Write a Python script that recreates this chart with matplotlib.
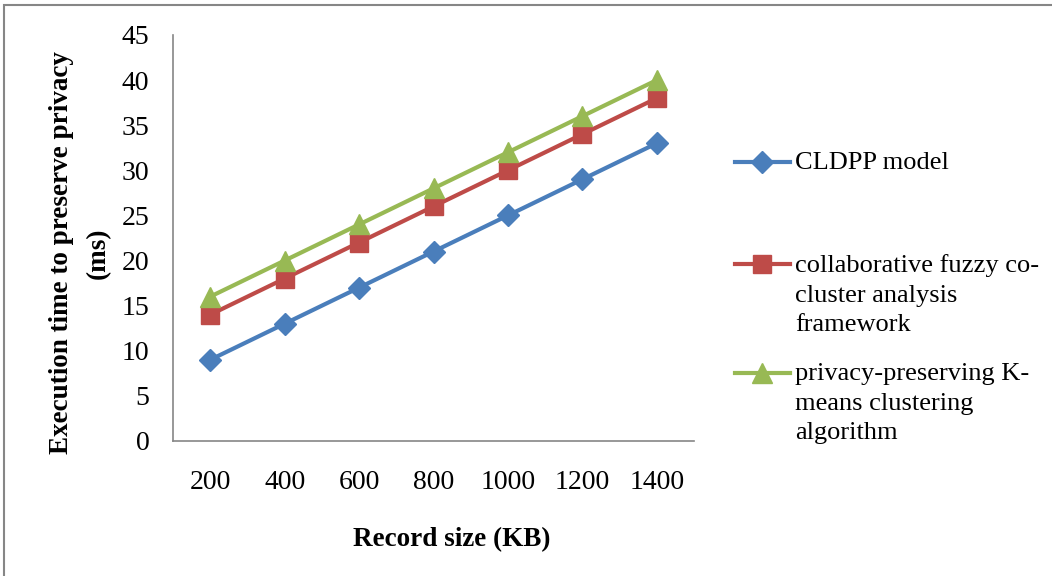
import matplotlib.pyplot as plt
from matplotlib.lines import Line2D
from matplotlib.patches import Rectangle

# dados
record_sizes = ["200", "400", "600", "800", "1000", "1200", "1400"]
cldpp = [9, 13, 17, 21, 25, 29, 33]
fuzzy = [14, 18, 22, 26, 30, 34, 38]
kmeans = [16, 20, 24, 28, 32, 36, 40]

labels = [
    "CLDPP model",
    "collaborative fuzzy co-\ncluster analysis\nframework",
    "privacy-preserving K-\nmeans clustering\nalgorithm",
]
colors = ["#4A7EBB", "#BE4B48", "#98B954"]
markers = ["D", "s", "^"]
msizes = [11, 13, 14]

plt.rcParams["font.family"] = ["Liberation Serif", "DejaVu Serif"]

fig = plt.figure(figsize=(10.52, 5.76), dpi=100)
W, H = 1052, 576
ax = fig.add_axes([173 / W, 1 - 441 / H, (694 - 173) / W, (441 - 35) / H])

x = range(len(record_sizes))
for vals, c, m, ms in zip([cldpp, fuzzy, kmeans], colors, markers, msizes):
    ax.plot(x, vals, color=c, lw=3, marker=m, ms=ms, mec=c, mfc=c, zorder=3)

ax.set_xlim(-0.5, len(record_sizes) - 0.5)
ax.set_ylim(0, 45)
ax.set_yticks(range(0, 46, 5))
ax.set_xticks(list(x))
ax.set_xticklabels(record_sizes)
ax.tick_params(axis="both", length=0, labelsize=20)
ax.tick_params(axis="x", pad=21)
ax.tick_params(axis="y", pad=17)
for s in ["top", "right"]:
    ax.spines[s].set_visible(False)
for s in ["left", "bottom"]:
    ax.spines[s].set_color("#868686")
    ax.spines[s].set_linewidth(1.2)

fig.text(452 / W, 1 - 540 / H, "Record size (KB)", fontsize=19.5,
         fontweight="bold", ha="center", va="center")
fig.text(80 / W, 1 - 253 / H, "Execution time to preserve privacy\n(ms)",
         fontsize=19.5, fontweight="bold", ha="center", va="center",
         rotation=90, linespacing=1.6)

# legenda manual (marcador alinhado com a primeira linha, como no Excel)
leg_y = [162, 264, 373]
for lab, c, m, ms, yy in zip(labels, colors, markers, msizes, leg_y):
    fy = 1 - yy / H
    fig.add_artist(Line2D([735 / W, 790 / W], [fy, fy], color=c, lw=3,
                          transform=fig.transFigure))
    fig.add_artist(Line2D([762 / W], [fy], color=c, marker=m, ms=ms,
                          mec=c, mfc=c, transform=fig.transFigure))
    fig.text(795 / W, fy + 10 / H, lab, fontsize=19, ha="left", va="top",
             linespacing=1.45)

# moldura cinza do gráfico
fig.add_artist(Rectangle((4 / W, -0.1), 1.2, 1 - 5 / H + 0.1,
                         transform=fig.transFigure, fill=False,
                         edgecolor="#868686", lw=1.5))

fig.savefig("out.png", dpi=100)
